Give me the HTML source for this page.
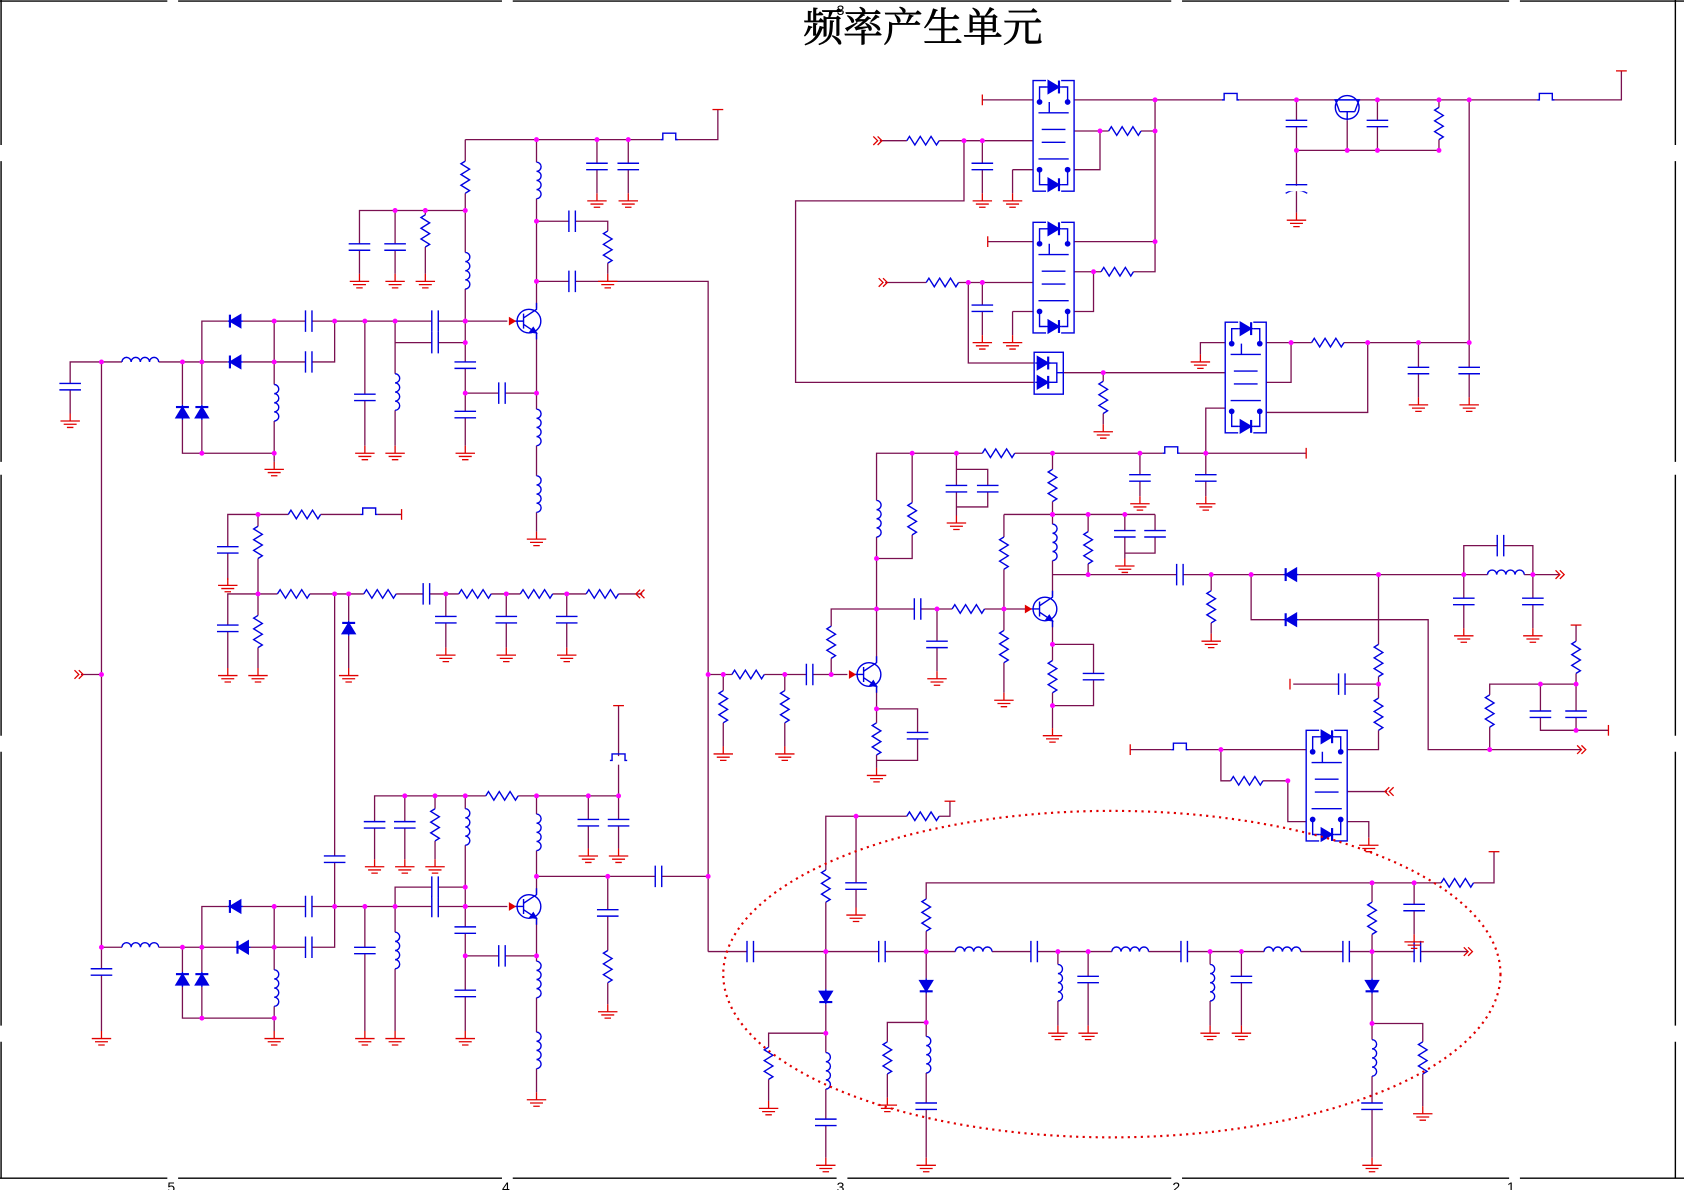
<!DOCTYPE html>
<html><head><meta charset="utf-8"><style>
html,body{margin:0;padding:0;background:#fff;overflow:hidden}
svg{display:block}
</style></head><body>
<svg id="s" width="1684" height="1190" viewBox="0 0 1560 1108" preserveAspectRatio="none" xmlns="http://www.w3.org/2000/svg">
<rect width="1560" height="1108" fill="#fff"/>
<g id="w" fill="none" stroke="#7a1050" stroke-width="1.2"></g>
<g id="c" fill="none" stroke="#0000e0" stroke-width="1.3"></g>
<g id="g" fill="none" stroke="#e00000" stroke-width="1.2"></g>
<g id="d" fill="#ff00ff"></g>
<ellipse cx="1030" cy="907" rx="360" ry="152" fill="none" stroke="#e00000" stroke-width="2" stroke-dasharray="2,4"/>
<g stroke="#000" stroke-width="1.3">
<line x1="1" y1="0" x2="1" y2="135"/><line x1="1" y1="150" x2="1" y2="430"/><line x1="1" y1="442" x2="1" y2="685"/><line x1="1" y1="700" x2="1" y2="955"/><line x1="1" y1="970" x2="1" y2="1097"/>
<line x1="1552" y1="0" x2="1552" y2="135"/><line x1="1552" y1="150" x2="1552" y2="430"/><line x1="1552" y1="442" x2="1552" y2="685"/><line x1="1552" y1="700" x2="1552" y2="955"/><line x1="1552" y1="970" x2="1552" y2="1097"/>
<line x1="0" y1="1" x2="155" y2="1"/><line x1="165" y1="1" x2="465" y2="1"/><line x1="475" y1="1" x2="1085" y2="1"/><line x1="1095" y1="1" x2="1398" y2="1"/><line x1="1408" y1="1" x2="1560" y2="1"/>
<line x1="0" y1="1097" x2="155" y2="1097"/><line x1="165" y1="1097" x2="465" y2="1097"/><line x1="475" y1="1097" x2="775" y2="1097"/><line x1="785" y1="1097" x2="1085" y2="1097"/><line x1="1095" y1="1097" x2="1398" y2="1097"/><line x1="1408" y1="1097" x2="1560" y2="1097"/>
</g>
<g font-family="Liberation Sans, sans-serif" font-size="13" fill="#000">
<text x="775" y="14">3</text>
<text x="155" y="1110">5</text><text x="465" y="1110">4</text><text x="775" y="1110">3</text><text x="1086" y="1110">2</text><text x="1396" y="1110">1</text>
</g>
<text x="855" y="38" text-anchor="middle" font-family="Liberation Serif, 'Noto Serif CJK SC', 'Noto Sans CJK SC', serif" font-size="37" stroke="#000" stroke-width="0.6" fill="#000">频率产生单元</text>
</svg>
<script>
var NS="http://www.w3.org/2000/svg";
var GW=document.getElementById('w'),GC=document.getElementById('c'),GG=document.getElementById('g'),GD=document.getElementById('d');
function el(p,t,a){var e=document.createElementNS(NS,t);for(var k in a)e.setAttribute(k,a[k]);p.appendChild(e);return e;}
function W(){var a=arguments,s="";for(var i=0;i<a.length;i+=2)s+=a[i]+","+a[i+1]+" ";el(GW,'polyline',{points:s});}
function blank(x,y,w,h){el(GC,'rect',{x:x,y:y,width:w,height:h,fill:'#fff',stroke:'none'});}
function R(x,y,h){
 var s="";if(h){blank(x-15,y-5,30,10);s=(x-15)+","+y+" ";for(var i=0;i<6;i++)s+=(x-12.5+i*5)+","+(y+(i%2?4:-4))+" ";s+=(x+15)+","+y;}
 else{blank(x-5,y-15,10,30);s=x+","+(y-15)+" ";for(var i=0;i<6;i++)s+=(x+(i%2?4:-4))+","+(y-12.5+i*5)+" ";s+=x+","+(y+15);}
 el(GC,'polyline',{points:s});}
function L(x,y,h){var d;
 if(h){blank(x-17,y-6,34,8);d="M"+(x-17)+","+y;for(var i=0;i<4;i++)d+=" a4.25,4.25 0 0 1 8.5,0";}
 else{blank(x-2,y-17,8,34);d="M"+x+","+(y-17);for(var i=0;i<4;i++)d+=" a4.25,4.25 0 0 1 0,8.5";}
 el(GC,'path',{d:d});}
function C(x,y,h){if(h){blank(x-3,y-10,6,20);el(GC,'path',{d:"M"+(x-3)+","+(y-10)+"v20M"+(x+3)+","+(y-10)+"v20"});}
 else{blank(x-10,y-3,20,6);el(GC,'path',{d:"M"+(x-10)+","+(y-3)+"h20M"+(x-10)+","+(y+3)+"h20"});}}
function G(x,y){el(GG,'path',{d:"M"+x+","+y+"v7M"+(x-9)+","+(y+7)+"h18M"+(x-6)+","+(y+10)+"h12M"+(x-3)+","+(y+13)+"h6"});}
function Dt(x,y){el(GD,'circle',{cx:x,cy:y,r:2.3});}
function D(x,y,dir){
 var p,b;blank(x-7,y-7,14,14);
 if(dir=='l')p=[[x+5,y-6],[x+5,y+6],[x-5,y]],b="M"+(x-5)+","+(y-6)+"v12";
 if(dir=='r')p=[[x-5,y-6],[x-5,y+6],[x+5,y]],b="M"+(x+5)+","+(y-6)+"v12";
 if(dir=='u')p=[[x-6,y+5],[x+6,y+5],[x,y-5]],b="M"+(x-6)+","+(y-5)+"h12";
 if(dir=='d')p=[[x-6,y-5],[x+6,y-5],[x,y+5]],b="M"+(x-6)+","+(y+5)+"h12";
 el(GC,'polygon',{points:p.join(" "),fill:'#0000e0'});el(GC,'path',{d:b,'stroke-width':2});
 if(dir=='l'||dir=='r')el(GC,'path',{d:"M"+(x-7)+","+y+"h14"});else el(GC,'path',{d:"M"+x+","+(y-7)+"v14"});}
function Q(x,y){
 el(GC,'circle',{cx:x,cy:y,r:11,fill:'#fff'});el(GC,'path',{d:"M"+(x-5)+","+(y-7)+"v14M"+(x-13)+","+y+"h8M"+(x-5)+","+(y-3)+"l12,-8v-6M"+(x-5)+","+(y+3)+"l12,8v6"});
 el(GC,'polygon',{points:(x+7)+","+(y+11)+" "+(x+1)+","+(y+10)+" "+(x+4)+","+(y+6),fill:'#0000e0'});
 el(GG,'polygon',{points:(x-18)+","+(y-3)+" "+(x-18)+","+(y+3)+" "+(x-13)+","+y,fill:'#e00000'});}
function F(x,y){blank(x-8,y-4,16,8);el(GC,'path',{d:"M"+(x-8)+","+y+"h2v-6h12v6h2"});}
function T(x,y){el(GG,'path',{d:"M"+(x-5)+","+y+"h10"});}
function Tv(x,y){el(GG,'path',{d:"M"+x+","+(y-5)+"v10"});}
function A(x,y,dir){var s=dir=='l'?-1:1;el(GG,'path',{d:"M"+(x-4*s)+","+(y-4)+"l"+(4*s)+",4l"+(-4*s)+",4M"+x+","+(y-4)+"l"+(4*s)+",4l"+(-4*s)+",4"});}
function SW(x,y,w,h){el(GC,'rect',{x:x,y:y,width:w,height:h,fill:'#fff'});
 var cx=x+w/2;
 el(GC,'path',{d:"M"+(x+6)+","+(y+20)+"v-14h"+(w-12)+"v14M"+(x+5)+","+(y+30)+"h"+(w-10)+"M"+(cx-4)+","+(y+20)+"v10M"+(x+6)+","+(y+h-20)+"v14h"+(w-12)+"v-14M"+(x+5)+","+(y+h-30)+"h"+(w-10)+"M"+(x+8)+","+(y+h/2-6)+"h"+(w-16)+"M"+(x+8)+","+(y+h/2+6)+"h"+(w-16)});
 D(cx,y+6,'r');D(cx,y+h-6,'r');
 [[x+6,y+20],[x+w-6,y+20],[x+6,y+h-20],[x+w-6,y+h-20]].forEach(function(p){el(GC,'circle',{cx:p[0],cy:p[1],r:2,fill:'#0000e0'});});}

W(431,130,665,130,665,102);T(665,102);F(620,130);
[497,553,582].forEach(function(x){Dt(x,130)});
W(553,130,553,180);C(553,155);G(553,180);W(582,130,582,180);C(582,155);G(582,180);
W(431,130,431,415);R(431,165);Dt(431,196);L(431,252);Dt(431,299);Dt(431,319);C(431,340);Dt(431,366);C(431,386);G(431,415);
W(333,255,333,196,431,196);C(333,230);G(333,255);W(366,196,366,255);C(366,230);G(366,255);Dt(366,196);W(394,196,394,255);R(394,215);G(394,255);Dt(394,196);
W(497,130,497,287);L(497,168);Dt(497,206);Dt(497,262);W(497,311,497,495);Dt(497,366);L(497,398);L(497,460);G(497,495);
W(497,206,563,206,563,255);C(530,206,1);R(563,230);G(563,255);
W(497,262,656,262,656,886);C(530,262,1);
W(187,337,187,299,470,299);D(218,299,'l');C(286,299,1);C(403,299,1);[254,310,338,366,431].forEach(function(x){Dt(x,299)});
W(366,319,431,319);C(403,319,1);
Q(490,299);
W(65,360,65,337,187,337,310,337,310,299);L(130,337,1);D(218,337,'l');C(286,337,1);[94,169,187,254].forEach(function(x){Dt(x,337)});C(65,360);G(65,385);W(65,360,65,385);
W(169,337,169,422,254,422);W(187,337,187,422);D(169,384,'u');D(187,384,'u');Dt(187,422);Dt(254,422);
W(254,299,254,430);L(254,375);G(254,430);
W(338,299,338,415);C(338,370);G(338,415);W(366,299,366,415);L(366,365);G(366,415);
W(431,366,497,366);C(465,366,1);
W(94,337,94,882);Dt(94,628);W(75,628,94,628);A(73,628,'r');
W(211,540,211,479,372,479);Dt(239,479);R(282,479,1);F(342,479);Tv(372,479);C(211,512);G(211,538);
W(239,479,239,622);R(239,505);
W(211,622,211,553,595,553);[239,310,323,413,469,525].forEach(function(x){Dt(x,553)});R(272,553,1);R(352,553,1);C(395,553,1);R(440,553,1);R(497,553,1);R(558,553,1);A(593,553,'l');
C(211,585);G(211,622);R(239,588);G(239,622);W(323,553,323,622);D(323,585,'u');G(323,622);
[413,469,525].forEach(function(x){W(x,553,x,603);C(x,577);G(x,603);});
W(310,553,310,844);C(310,800);
W(347,800,347,741,573,741,573,657);T(573,657);F(573,708);[375,403,431,497,545,573].forEach(function(x){Dt(x,741)});R(465,741,1);
C(347,768);G(347,800);W(375,741,375,800);C(375,768);G(375,800);W(403,741,403,800);R(403,768);G(403,800);
W(545,741,545,790);C(545,766);G(545,790);C(573,766);G(573,790);W(573,741,573,790);
W(431,741,431,960);L(431,770);Dt(431,826);Dt(431,844);C(431,866);Dt(431,890);C(431,925);G(431,960);
W(497,741,497,832);L(497,775);Dt(497,816);W(497,856,497,1017);Dt(497,890);L(497,912);L(497,978);G(497,1017);
W(497,816,656,816);Dt(563,816);C(610,816,1);Dt(656,816);W(563,816,563,935);C(563,850);R(563,900);G(563,935);
W(187,882,187,844,470,844);D(218,844,'l');C(286,844,1);C(403,844,1);[254,310,338,366,431].forEach(function(x){Dt(x,844)});
W(366,844,366,826,431,826);C(403,826,1);
Q(490,844);
W(94,960,94,882,310,882,310,844);L(130,882,1);D(225,882,'l');C(286,882,1);[94,169,187,254].forEach(function(x){Dt(x,882)});C(94,905);G(94,960);
W(169,882,169,948,254,948);W(187,882,187,948);D(169,912,'u');D(187,912,'u');Dt(187,948);Dt(254,948);
W(254,844,254,960);L(254,920);G(254,960);
W(338,844,338,960);C(338,885);G(338,960);W(366,844,366,960);L(366,885);G(366,960);
W(431,890,497,890);C(465,890,1);
Dt(656,628);W(656,628,785,628);[670,727,770].forEach(function(x){Dt(x,628)});R(693,628,1);C(750,628,1);
W(670,628,670,695);R(670,658);G(670,695);W(727,628,727,695);R(727,658);G(727,695);
W(770,628,770,567,812,567);R(770,598);
Q(805,628);
W(812,616,812,422,1210,422);Dt(812,567);Dt(812,520);L(812,483);Tv(1210,422);
W(812,640,812,715);Dt(812,660);R(812,688);G(812,715);W(812,660,850,660,850,708,812,708);C(850,685);
[845,886,975,1056,1117].forEach(function(x){Dt(x,422)});R(925,422,1);F(1085,422);
W(845,422,845,520,812,520);R(845,483);
W(886,422,886,480);W(886,437,915,437,915,472,886,472);C(886,455);C(915,455);G(886,480);
W(975,422,975,555);R(975,452);Dt(975,479);
W(1056,422,1056,462);C(1056,445);G(1056,462);W(1117,422,1117,462);C(1117,445);G(1117,462);
W(812,567,955,567);C(850,567,1);Dt(868,567);R(897,567,1);Dt(930,567);
W(868,567,868,625);C(868,600);G(868,625);
W(930,479,930,645);R(930,515);R(930,602);G(930,645);
Q(968,567);
W(930,479,1070,479);[975,1008,1042].forEach(function(x){Dt(x,479)});L(975,505);W(1008,479,1008,535);R(1008,510);
W(1042,479,1042,520);W(1070,479,1070,515,1042,515);C(1042,497);C(1070,497);G(1042,520);
W(975,579,975,678);Dt(975,600);R(975,630);Dt(975,657);G(975,678);W(975,600,1013,600,1013,657,975,657);C(1013,630);
W(975,535,1445,535);[1008,1122,1159,1277,1356,1420].forEach(function(x){Dt(x,535)});C(1093,535,1);D(1196,535,'l');L(1395,535,1);A(1445,535,'r');
W(1356,535,1356,508,1420,508,1420,585);C(1390,508,1);W(1356,535,1356,585);C(1356,560);G(1356,585);C(1420,560);G(1420,585);
W(1122,535,1122,590);R(1122,565);G(1122,590);
W(1159,535,1159,577,1323,577,1323,698,1465,698);D(1196,577,'l');A(1465,698,'r');
W(1277,535,1277,698,1248,698);R(1277,615);Dt(1277,637);R(1277,665);
W(1198,637,1277,637);C(1243,637,1);Tv(1195,637);
W(1460,582,1460,680);T(1460,582);R(1460,612);Dt(1460,637);W(1460,637,1380,637,1380,698);R(1380,662);Dt(1380,698);
W(1427,637,1427,680,1490,680);C(1427,665);C(1460,665);Dt(1427,637);Dt(1460,680);Tv(1490,680);
W(1047,698,1215,698);Tv(1047,698);F(1093,698);Dt(1131,698);W(1131,698,1131,727,1193,727,1193,765,1215,765);R(1155,727,1);Dt(1193,727);
W(1248,737,1285,737);A(1287,737,'l');W(1248,765,1268,765,1268,780);G(1268,780);
SW(1210,680,38,103);
W(910,93,1502,93,1502,66);T(1502,66);Tv(910,93);[1070,1201,1276,1333,1361].forEach(function(x){Dt(x,93)});F(1140,93);F(1432,93);
W(1201,93,1201,198);C(1201,115);Dt(1201,140);G(1201,198);
el(GC,'path',{d:"M1191,172h20M1191,180q10,-6 20,0"});blank(1192,173,18,5);
W(1201,140,1333,140,1333,93);[1248,1276,1333].forEach(function(x){Dt(x,140)});W(1276,93,1276,140);C(1276,115);R(1333,115);
W(1248,112,1248,140);
el(GC,'circle',{cx:1248,cy:100,r:11,fill:'#fff'});el(GC,'path',{d:"M1236,93h24M1241,104h14M1248,104v8M1241,104l-4,-11M1255,104l4,-11"});
W(815,131,957,131);A(813,131,'r');R(855,131,1);Dt(893,131);Dt(910,131);
W(910,131,910,180);C(910,155);G(910,180);W(938,158,957,158);W(938,158,938,180);G(938,180);
W(995,122,1070,122);Dt(1019,122);Dt(1070,122);R(1042,122,1);W(1019,122,1019,158,995,158);W(1070,93,1070,225);Dt(1070,225);
W(893,131,893,187,737,187,737,356,960,356);
W(915,225,1070,225);Tv(915,225);
W(820,263,957,263);A(818,263,'r');R(873,263,1);Dt(897,263);Dt(910,263);
W(910,263,910,312);C(910,287);G(910,312);W(938,290,957,290);W(938,290,938,312);G(938,312);
W(995,253,1070,253,1070,225);Dt(1013,253);R(1035,253,1);W(1013,253,1013,290,995,290);
W(897,263,897,338,960,338);
SW(957,75,38,103);SW(957,207,38,103);
el(GC,'rect',{x:958,y:328,width:27,height:39,fill:'#fff'});D(966,338,'r');D(966,356,'r');el(GC,'path',{d:"M971,338h8v18h-8M979,347h6"});
W(985,347,1135,347);Dt(1022,347);W(1022,347,1022,395);R(1022,370);G(1022,395);
W(1112,330,1112,319,1135,319);G(1112,330);
W(1173,319,1361,319,1361,93);[1196,1267,1314,1361].forEach(function(x){Dt(x,319)});R(1230,319,1);
W(1196,319,1196,356,1173,356);W(1267,319,1267,384,1173,384);
W(1314,319,1314,370);C(1314,345);G(1314,370);C(1361,345);G(1361,370);W(1361,319,1361,370);
W(1117,422,1117,380,1135,380);
SW(1135,300,38,103);
W(656,886,1360,886);A(1360,886,'r');C(695,886,1);C(817,886,1);L(902,886,1);C(958,886,1);L(1047,886,1);C(1097,886,1);L(1188,886,1);C(1247,886,1);C(1313,886,1);
[765,858,980,1008,1121,1150,1271].forEach(function(x){Dt(x,886)});
W(765,886,765,760,880,760,880,746);T(880,746);R(765,825);Dt(793,760);R(855,760,1);W(793,760,793,845);C(793,825);G(793,845);
W(765,886,765,1078);D(765,928,'d');Dt(765,962);L(765,997);C(765,1045);G(765,1078);
W(765,962,712,962,712,1025);R(712,990);G(712,1025);
W(858,886,858,822,1384,822,1384,793);T(1384,793);R(858,852);Dt(1271,822);Dt(1310,822);R(1350,822,1);
W(1310,822,1310,870);C(1310,845);G(1310,870);
W(858,886,858,1078);D(858,918,'d');Dt(858,952);L(858,982);C(858,1030);G(858,1078);
W(858,952,822,952,822,1022);R(822,985);G(822,1022);
[980,1121].forEach(function(x){W(x,886,x,955);L(x,915);G(x,955);});
[1008,1150].forEach(function(x){W(x,886,x,955);C(x,912);G(x,955);});
W(1271,822,1271,1078);R(1271,855);D(1271,918,'d');Dt(1271,953);L(1271,985);C(1271,1030);G(1271,1078);
W(1271,953,1318,953,1318,1030);R(1318,985);G(1318,1030);
</script>
</body></html>
